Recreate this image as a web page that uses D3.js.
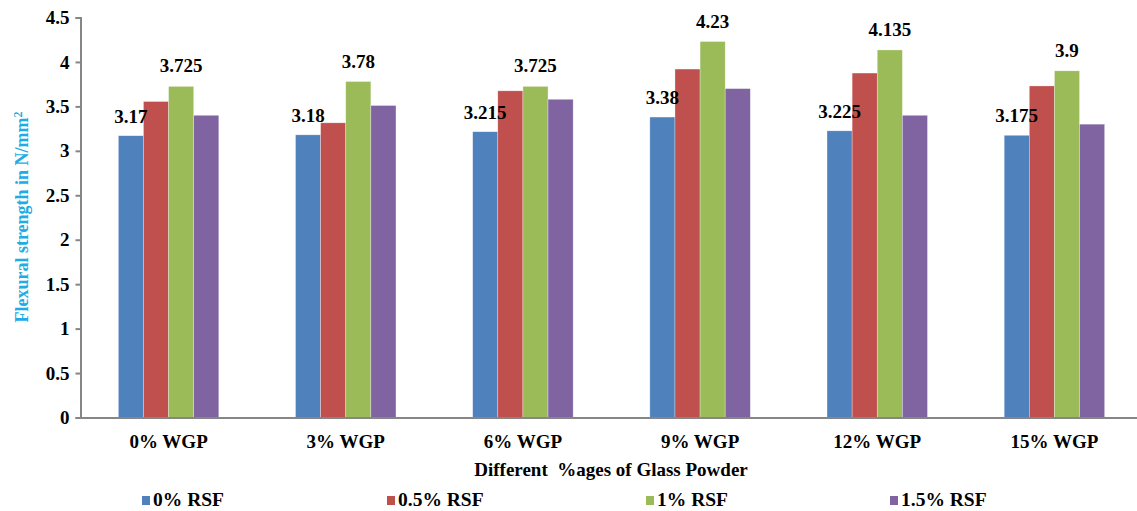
<!DOCTYPE html>
<html><head><meta charset="utf-8">
<script src="https://cdn.jsdelivr.net/npm/d3@7"></script>
<style>html,body{margin:0;padding:0;background:#fff;overflow:hidden}</style>
</head><body>
<svg id="c" width="1137" height="511"></svg>
<script>
const categories = ["0% WGP","3% WGP","6% WGP","9% WGP","12% WGP","15% WGP"];
const seriesNames = ["0% RSF","0.5% RSF","1% RSF","1.5% RSF"];
const rsf0  = [3.17, 3.18, 3.215, 3.38, 3.225, 3.175];
const rsf05 = [3.555, 3.315, 3.675, 3.92, 3.875, 3.73];
const rsf1  = [3.725, 3.78, 3.725, 4.23, 4.135, 3.9];
const rsf15 = [3.40, 3.51, 3.58, 3.70, 3.40, 3.30];
const yTicks = [0,0.5,1,1.5,2,2.5,3,3.5,4,4.5];
const colors = ["#4F81BD","#C0504D","#9BBB59","#8064A2"];
const labelled = [true,false,true,false];
const values = [rsf0, rsf05, rsf1, rsf15];

const FONT = "Liberation Serif";
const svg = d3.select("#c");
const x0 = d3.scaleBand().domain(categories).range([80,1143]).paddingInner(0.433).paddingOuter(0.2165);
const x1 = d3.scaleBand().domain(seriesNames).range([0, x0.bandwidth()]);
const y = d3.scaleLinear().domain([0,4.5]).range([417.5,17.5]);

function styleText(sel, size){
  return sel.attr("font-family",FONT).attr("font-weight","bold").attr("font-size",size+"px");
}

const barsG = svg.append("g");
const labG = svg.append("g");
seriesNames.forEach((s,si)=>{
  barsG.append("g").selectAll("rect").data(values[si]).join("rect")
    .attr("x",(d,i)=>x0(categories[i])+x1(s))
    .attr("y",d=>y(d))
    .attr("width",x1.bandwidth())
    .attr("height",d=>y(0)-y(d))
    .attr("fill",colors[si])
    .attr("stroke","#fff").attr("stroke-width",0.6).attr("stroke-opacity",0.5);
  if(labelled[si]){
    labG.append("g").selectAll("text").data(values[si]).join("text")
      .attr("x",(d,i)=>x0(categories[i])+x1(s)+x1.bandwidth()/2)
      .attr("y",d=>y(d)-(si===0?13:14))
      .attr("text-anchor","middle")
      .attr("fill","#000")
      .call(styleText,19)
      .text(d=>String(d));
  }
});

// y axis
const ya = svg.append("g").attr("transform","translate(80.5,0)")
  .call(d3.axisLeft(y).tickValues(yTicks).tickSize(5).tickPadding(6).tickFormat(d=>String(d)));
ya.select(".domain").attr("stroke","#868686").attr("stroke-width",2);
ya.selectAll(".tick line").attr("stroke","#868686").attr("stroke-width",2);
ya.selectAll(".tick text").attr("fill","#000").call(styleText,19);

// x axis
const xa = svg.append("g").attr("transform","translate(0,417.5)")
  .call(d3.axisBottom(x0).tickSize(0).tickPadding(17));
xa.select(".domain").attr("stroke","#868686").attr("stroke-width",2);
xa.selectAll(".tick text").attr("fill","#000").call(styleText,19);

// axis titles
svg.append("text").attr("x",611).attr("y",476).attr("text-anchor","middle")
  .attr("fill","#000").attr("xml:space","preserve").style("white-space","pre").call(styleText,19)
  .text("Different  %ages of Glass Powder");
const yt = svg.append("text").attr("transform","translate(28,217) rotate(-90)").attr("text-anchor","middle")
  .attr("fill","#1DACE4").call(styleText,18);
yt.append("tspan").text("Flexural strength in N/mm");
yt.append("tspan").attr("dy","-6").attr("font-size","12px").text("2");

// legend
const legendX = [142, 387, 646, 890];
const lg = svg.append("g").selectAll("g").data(seriesNames).join("g")
  .attr("transform",(d,i)=>`translate(${legendX[i]},0)`);
lg.append("rect").attr("x",0).attr("y",496).attr("width",8).attr("height",9).attr("fill",(d,i)=>colors[i]);
lg.append("text").attr("x",11).attr("y",506)
  .attr("fill","#000").call(styleText,19.5)
  .text(d=>d);
</script>
</body></html>
